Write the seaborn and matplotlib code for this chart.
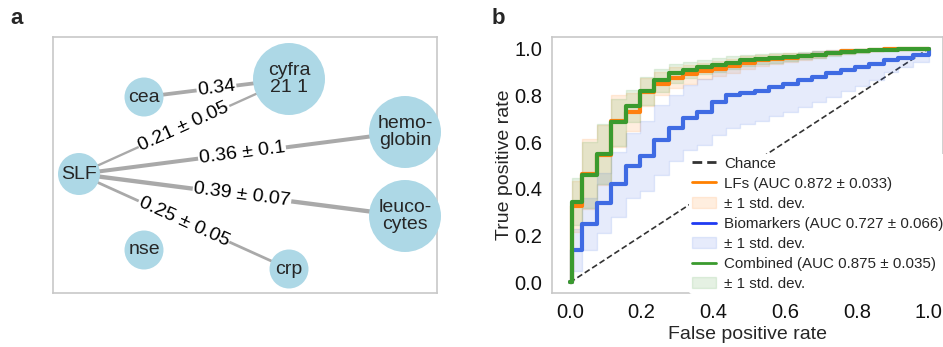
import numpy as np
import pandas as pd
import seaborn as sns
import matplotlib.pyplot as plt

#%% data - panel a (network of learned feature links)
node_names = ["SLF", "cea", "cyfra", "hemoglobin", "leucocytes", "nse", "crp"]
node_labels = ["SLF", "cea", "cyfra\n21 1", "hemo-\nglobin", "leuco-\ncytes", "nse", "crp"]
node_kind = ["query", "small", "large", "large", "large", "small", "small"]

edge_src = ["cea", "SLF", "SLF", "SLF", "SLF"]
edge_dst = ["cyfra", "cyfra", "hemoglobin", "leucocytes", "crp"]
edge_mean = [0.34, 0.21, 0.36, 0.39, 0.25]
edge_std = [np.nan, 0.05, 0.1, 0.07, 0.05]

#%% data - panel b (mean ROC curves)
fpr = [0.0, 0.005, 0.035, 0.075, 0.115, 0.155, 0.195, 0.235, 0.275, 0.315, 0.355,
       0.395, 0.435, 0.475, 0.515, 0.555, 0.595, 0.635, 0.675, 0.715, 0.755,
       0.795, 0.835, 0.875, 0.915, 0.955, 1.0]
tpr_lf = [0.0, 0.325, 0.465, 0.545, 0.69, 0.73, 0.815, 0.85, 0.875, 0.89, 0.905,
          0.915, 0.925, 0.94, 0.95, 0.955, 0.962, 0.968, 0.975, 0.982, 0.988,
          0.992, 0.995, 0.997, 0.999, 1.0, 1.0]
std_lf = [0.0, 0.11, 0.15, 0.13, 0.11, 0.08, 0.06, 0.05, 0.045, 0.04, 0.035,
          0.032, 0.03, 0.027, 0.024, 0.021, 0.018, 0.015, 0.013, 0.011, 0.009,
          0.007, 0.005, 0.004, 0.002, 0.0, 0.0]
tpr_bio = [0.0, 0.138, 0.25, 0.34, 0.42, 0.50, 0.54, 0.61, 0.66, 0.705, 0.73,
           0.77, 0.80, 0.81, 0.82, 0.835, 0.85, 0.865, 0.88, 0.895, 0.91,
           0.92, 0.935, 0.95, 0.96, 0.975, 1.0]
std_bio = [0.0, 0.09, 0.11, 0.13, 0.14, 0.14, 0.15, 0.15, 0.14, 0.14, 0.14,
           0.14, 0.14, 0.13, 0.13, 0.125, 0.12, 0.115, 0.11, 0.10, 0.09,
           0.08, 0.07, 0.05, 0.04, 0.03, 0.0]
tpr_comb = [0.0, 0.346, 0.46, 0.55, 0.685, 0.755, 0.82, 0.865, 0.895, 0.91, 0.92,
            0.93, 0.94, 0.95, 0.955, 0.96, 0.965, 0.97, 0.975, 0.98, 0.985,
            0.99, 0.993, 0.996, 0.998, 1.0, 1.0]
std_comb = [0.0, 0.10, 0.14, 0.13, 0.10, 0.07, 0.06, 0.05, 0.04, 0.035, 0.03,
            0.03, 0.028, 0.025, 0.022, 0.02, 0.018, 0.015, 0.013, 0.011, 0.009,
            0.007, 0.005, 0.004, 0.002, 0.0, 0.0]
auc_lf, auc_lf_sd = 0.872, 0.033
auc_bio, auc_bio_sd = 0.727, 0.066
auc_comb, auc_comb_sd = 0.875, 0.035

#%% style
sns.set_style("white")
plt.rcParams['font.family'] = ['Liberation Sans', 'DejaVu Sans']
grey_spine = '#c8c8c8'

fig = plt.figure(figsize=(9.43, 3.47), dpi=100)
W, H = 943, 347

#%% panel a
ax_a = fig.add_axes([53 / W, (H - 293) / H, (437 - 53) / W, 256 / H])
ax_a.set_xlim(53, 437)
ax_a.set_ylim(293, 37)
ax_a.set_xticks([])
ax_a.set_yticks([])
for s in ax_a.spines.values():
    s.set_color(grey_spine)
    s.set_linewidth(1.2)

# layout of the graph (pixel-like coords)
layout = {"SLF": (79, 174), "cea": (144, 97), "cyfra": (289, 79),
          "hemoglobin": (405, 132), "leucocytes": (405, 216),
          "nse": (144, 250), "crp": (289, 269)}

for a, b, m, sd in zip(edge_src, edge_dst, edge_mean, edge_std):
    (x0, y0), (x1, y1) = layout[a], layout[b]
    ax_a.plot([x0, x1], [y0, y1], color='#a9a9a9', lw=m * 8, zorder=1,
              solid_capstyle='butt')
    txt = f"{m:.2f}" if np.isnan(sd) else f"{m:.2f} ± {sd:g}"
    ang = np.degrees(np.arctan2(-(y1 - y0), x1 - x0))
    ax_a.text((x0 + x1) / 2, (y0 + y1) / 2, txt, rotation=ang,
              rotation_mode='anchor', ha='center', va='center', fontsize=14,
              color='black', zorder=2,
              bbox=dict(boxstyle='square,pad=0.05', fc='white', ec='none'))

dfn = pd.DataFrame({"name": node_names, "label": node_labels, "kind": node_kind})
dfn["x"] = [layout[n][0] for n in node_names]
dfn["y"] = [layout[n][1] for n in node_names]
sns.scatterplot(data=dfn, x="x", y="y", size="kind",
                sizes={"query": 914, "small": 788, "large": 2687},
                color='#add8e6', linewidth=0, legend=False, ax=ax_a,
                zorder=3, clip_on=False)
for _, r in dfn.iterrows():
    ax_a.text(r["x"], r["y"], r["label"], ha='center', va='center',
              fontsize=14, linespacing=0.95, zorder=4)
ax_a.set_xlabel("")
ax_a.set_ylabel("")

#%% panel b
ax_b = fig.add_axes([552 / W, (H - 293) / H, (W - 552) / W, 256 / H])
ax_b.set_xlim(-0.05, 1.04)
ax_b.set_ylim(-0.045, 1.05)

chance, = ax_b.plot([0, 1], [0, 1], ls=(0, (3.5, 1.8)), color='#333333',
                    lw=1.2, zorder=1)

series = [
    (tpr_lf, std_lf, '#ff7f0e', f"LFs (AUC {auc_lf:.3f} ± {auc_lf_sd:.3f})"),
    (tpr_bio, std_bio, '#3f6be3', f"Biomarkers (AUC {auc_bio:.3f} ± {auc_bio_sd:.3f})"),
    (tpr_comb, std_comb, '#3a9a2e', f"Combined (AUC {auc_comb:.3f} ± {auc_comb_sd:.3f})"),
]
handles, labels = [chance], ["Chance"]
for tpr, sd, c, lab in series:
    tpr = np.array(tpr)
    sd = np.array(sd)
    hi = np.minimum(tpr + sd, 1.0)
    lo = np.maximum(tpr - sd, 0.0)
    band = ax_b.fill_between(fpr, lo, hi, step='post', color=c, alpha=0.13,
                             lw=1, zorder=2)
    sns.lineplot(x=fpr, y=tpr, drawstyle='steps-post', color=c, lw=3,
                 ax=ax_b, zorder=3, solid_capstyle='round')
    handles += [ax_b.lines[-1], band]
    labels += [lab, "± 1 std. dev."]

ax_b.set_xticks([0, 0.2, 0.4, 0.6, 0.8, 1.0])
ax_b.set_yticks([0, 0.2, 0.4, 0.6, 0.8, 1.0])
ax_b.set_xticklabels(["0.0", "0.2", "0.4", "0.6", "0.8", "1.0"])
ax_b.set_yticklabels(["0.0", "0.2", "0.4", "0.6", "0.8", "1.0"])
ax_b.tick_params(axis='both', direction='out', length=4, width=1,
                 color='#b0b0b0', labelsize=14.5, labelcolor='#111111', pad=3)
for s in ax_b.spines.values():
    s.set_color(grey_spine)
    s.set_linewidth(1.2)
ax_b.set_xlabel("False positive rate", fontsize=14, labelpad=3)
ax_b.set_ylabel("True positive rate", fontsize=14, labelpad=1)

leg = ax_b.legend(handles, labels, loc='lower right', bbox_to_anchor=(1.012, -0.01),
                  fontsize=10.9, frameon=True, framealpha=1, edgecolor='none',
                  facecolor='white', handlelength=1.6, handletextpad=0.5,
                  labelspacing=0.4, borderpad=0.2, borderaxespad=0.1)
leg_cols = ['#333333', '#ff8000', '#1f3af2', '#3a9a2e']
for ln, col in zip(leg.get_lines(), leg_cols):
    ln.set_linewidth(2)
    ln.set_color(col)

fig.text(17 / W, 1 - 18 / H, "a", fontsize=16, fontweight='bold', ha='center', va='center')
fig.text(498 / W, 1 - 18 / H, "b", fontsize=16, fontweight='bold', ha='center', va='center')

fig.savefig("out.png", dpi=100)
plt.close()
